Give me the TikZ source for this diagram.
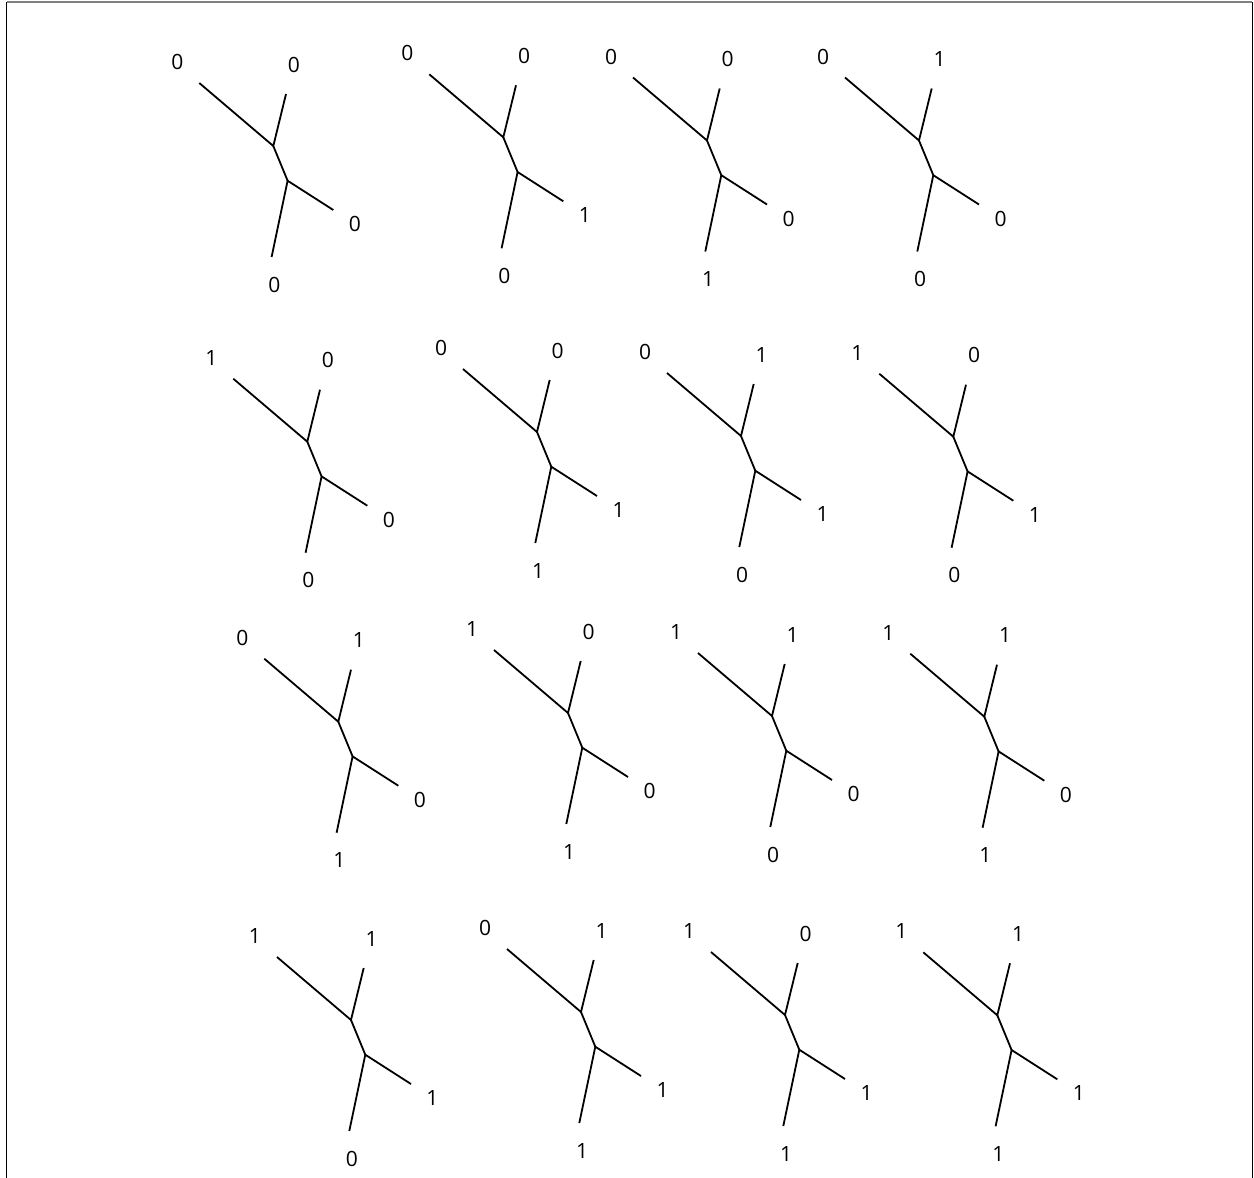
\documentclass[tikz,border=0pt]{standalone}
\usepackage{fontspec}
\setmainfont{Open Sans}
\tikzset{
  branch/.style={line width=1.8pt, black},
  leaflabel/.style={inner sep=0pt, font=\fontsize{21}{24}\selectfont},
  framegray/.style={line width=1.2pt, gray},
  frameblack/.style={line width=1.6pt, black}
}
\newcommand\qtree[7]{%
  \begin{scope}[shift={(#2,#3)}]
    \coordinate (u#1) at (0,0);
    \coordinate (v#1) at (14.3,34.7);
    \coordinate (a#1) at (-74,-63);
    \coordinate (b#1) at (12.7,-52);
    \coordinate (c#1) at (60,64);
    \coordinate (d#1) at (-1.7,111);
    \node[leaflabel] (la#1) at (-96,-84) {#4};
    \node[leaflabel] (lb#1) at (20.7,-81.5) {#5};
    \node[leaflabel] (lc#1) at (81.5,78) {#6};
    \node[leaflabel] (ld#1) at (1,138.5) {#7};
    \draw[branch] (a#1) -- (u#1) -- (b#1);
    \draw[branch] (u#1) -- (v#1);
    \draw[branch] (c#1) -- (v#1) -- (d#1);
  \end{scope}}
\begin{document}
\begin{tikzpicture}[x=1pt,y=-1pt]
\useasboundingbox (0,0) rectangle (1254,1178);
\coordinate (tl) at (6.5,2);
\coordinate (tr) at (1252.3,2);
\coordinate (bl) at (6.5,1178);
\coordinate (br) at (1252.3,1178);
\draw[framegray] (tl) -- (tr);
\draw[frameblack] (tl) -- (bl);
\draw[frameblack] (tr) -- (br);
\qtree{1}{273.3}{146}{0}{0}{0}{0}
\qtree{2}{503.3}{137.3}{0}{0}{1}{0}
\qtree{3}{707}{140.5}{0}{0}{0}{1}
\qtree{4}{919}{140.5}{0}{1}{0}{0}
\qtree{5}{307.3}{441.7}{1}{0}{0}{0}
\qtree{6}{537}{432}{0}{0}{1}{1}
\qtree{7}{741}{436}{0}{1}{1}{0}
\qtree{8}{953.3}{436.7}{1}{0}{1}{0}
\qtree{9}{338.3}{721.7}{0}{1}{0}{1}
\qtree{10}{568}{713}{1}{0}{0}{1}
\qtree{11}{772}{716}{1}{1}{0}{0}
\qtree{12}{984.3}{716.7}{1}{1}{0}{1}
\qtree{13}{351}{1020}{1}{1}{1}{0}
\qtree{14}{581}{1012}{0}{1}{1}{1}
\qtree{15}{785}{1015}{1}{0}{1}{1}
\qtree{16}{997.3}{1015.3}{1}{1}{1}{1}
\end{tikzpicture}
\end{document}
